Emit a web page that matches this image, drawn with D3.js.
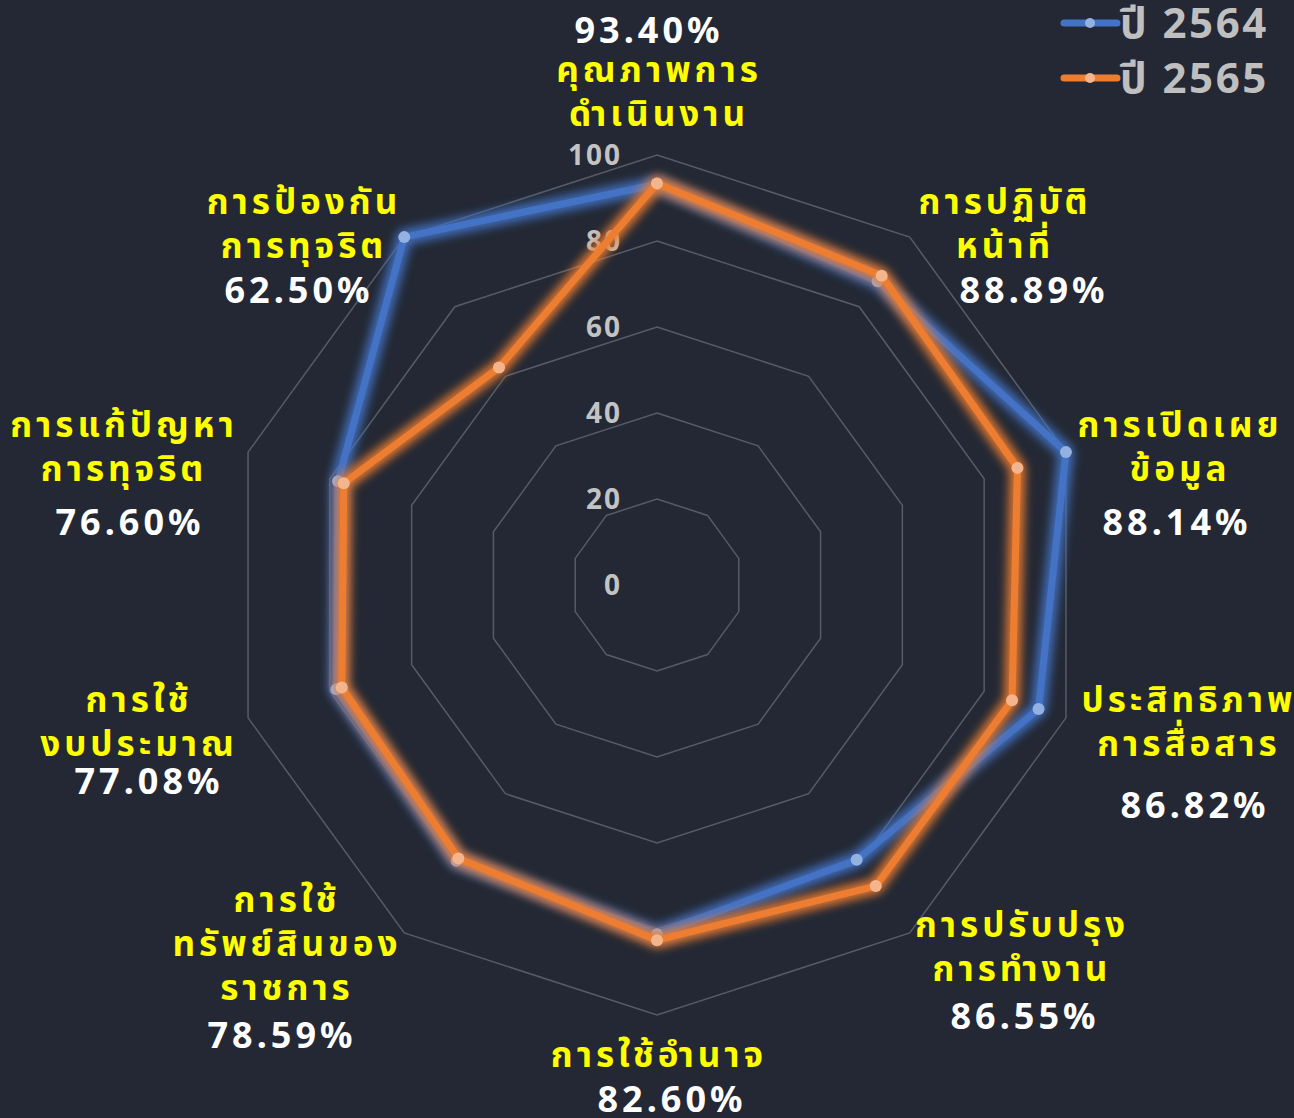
<!DOCTYPE html>
<html>
<head>
<meta charset="utf-8">
<script src="https://cdn.jsdelivr.net/npm/d3@7"></script>
<style>
  html, body { margin: 0; padding: 0; background: #232834; }
  svg { display: block; }
  text { font-family: "Noto Sans", "Noto Sans Thai", "Noto Sans Thai Looped", sans-serif; font-weight: bold; }
</style>
</head>
<body>
<div id="container"></div>
<script>
const WIDTH = 1294;
const HEIGHT = 1118;
const CX = 657;
const CY = 585;
const MAX_R = 430;

// categories, clockwise from the top
const categories = [
  ['คุณภาพการ', 'ดำเนินงาน'],
  ['การปฏิบัติ', 'หน้าที่'],
  ['การเปิดเผย', 'ข้อมูล'],
  ['ประสิทธิภาพ', 'การสื่อสาร'],
  ['การปรับปรุง', 'การทำงาน'],
  ['การใช้อำนาจ'],
  ['การใช้', 'ทรัพย์สินของ', 'ราชการ'],
  ['การใช้', 'งบประมาณ'],
  ['การแก้ปัญหา', 'การทุจริต'],
  ['การป้องกัน', 'การทุจริต']
];

const series2564 = [93.2, 87.3, 100, 93.3, 79.0, 81.2, 79.3, 78.4, 78.0, 100];
const series2565 = [93.40, 88.89, 88.14, 86.82, 86.55, 82.60, 78.59, 77.08, 76.60, 62.50];
const seriesNames = ['ปี 2564', 'ปี 2565'];
const ringTicks = [20, 40, 60, 80, 100];
const tickLabels = [0, 20, 40, 60, 80, 100];

// where the axis captions sit (x, first line y, percent x, percent y)
const captionLayout = [
  { x: 657, y: 70, px: 647, py: 30 },
  { x: 1003, y: 202, px: 1032, py: 290 },
  { x: 1178, y: 425, px: 1175, py: 522 },
  { x: 1187, y: 700, px: 1193, py: 805 },
  { x: 1020, y: 925, px: 1023, py: 1016 },
  { x: 657, y: 1055, px: 670, py: 1099 },
  { x: 285, y: 900, px: 280, py: 1035 },
  { x: 137, y: 700, px: 147, py: 781 },
  { x: 122, y: 425, px: 128, py: 522 },
  { x: 302, y: 202, px: 297, py: 290 }
];

const COLORS = ['#4472c4', '#ed7d31'];
const POINT_COLORS = ['#93b1e1', '#f5b58c'];

const svg = d3.select('#container')
              .append('svg')
                .attr('width', WIDTH)
                .attr('height', HEIGHT);

svg.append('rect')
   .attr('width', WIDTH)
   .attr('height', HEIGHT)
   .attr('fill', '#232834');

const defs = svg.append('defs');
COLORS.forEach((c, i) => {
    const f = defs.append('filter')
                  .attr('id', `glow${i}`)
                  .attr('x', '-20%').attr('y', '-20%')
                  .attr('width', '140%').attr('height', '140%');
    f.append('feGaussianBlur')
     .attr('in', 'SourceGraphic')
     .attr('stdDeviation', 5);
});

const rscale = d3.scaleLinear().domain([0, 100]).range([0, MAX_R]);
const n = categories.length;
const angle = i => i * 2 * Math.PI / n;
const px = (i, v) => CX + rscale(v) * Math.sin(angle(i));
const py = (i, v) => CY - rscale(v) * Math.cos(angle(i));

const g = svg.append('g');

// grid rings
g.selectAll('.ring')
 .data(ringTicks)
 .enter()
 .append('polygon')
   .attr('points', t => d3.range(n).map(i => `${px(i, t)},${py(i, t)}`).join(' '))
   .attr('fill', 'none')
   .attr('stroke', '#565c67')
   .attr('stroke-width', 1.5);

// ring labels
g.selectAll('.tick')
 .data(tickLabels)
 .enter()
 .append('text')
   .attr('x', 622)
   .attr('y', t => py(0, t))
   .attr('dy', '0.35em')
   .attr('text-anchor', 'end')
   .attr('fill', '#c3c3c3')
   .attr('font-size', 28)
   .attr('letter-spacing', 2)
   .text(t => t);

const line = d3.lineRadial()
               .angle((d, i) => angle(i))
               .radius(d => rscale(d))
               .curve(d3.curveLinearClosed);

[series2564, series2565].forEach((s, k) => {
    const sg = g.append('g').attr('transform', `translate(${CX}, ${CY})`);
    sg.append('path')
      .attr('d', line(s))
      .attr('fill', 'none')
      .attr('stroke', COLORS[k])
      .attr('stroke-width', 16)
      .attr('stroke-opacity', 0.9)
      .attr('stroke-linejoin', 'round')
      .attr('filter', `url(#glow${k})`);
    sg.append('path')
      .attr('d', line(s))
      .attr('fill', 'none')
      .attr('stroke', COLORS[k])
      .attr('stroke-width', 7)
      .attr('stroke-linejoin', 'round');
    g.selectAll(`.pt${k}`)
     .data(s)
     .enter()
     .append('circle')
       .attr('cx', (d, i) => px(i, d))
       .attr('cy', (d, i) => py(i, d))
       .attr('r', 6)
       .attr('fill', POINT_COLORS[k]);
});

// captions
categories.forEach((lines, i) => {
    const L = captionLayout[i];
    lines.forEach((t, j) => {
        svg.append('text')
           .attr('x', L.x + 2)
           .attr('y', L.y + j * 44)
           .attr('dy', '0.35em')
           .attr('text-anchor', 'middle')
           .attr('fill', '#ffff00')
           .attr('font-size', 35)
           .attr('letter-spacing', 4)
           .text(t);
    });
    svg.append('text')
       .attr('x', L.px + 2)
       .attr('y', L.py)
       .attr('dy', '0.35em')
       .attr('text-anchor', 'middle')
       .attr('fill', '#ffffff')
       .attr('font-size', 36)
       .attr('letter-spacing', 4)
       .text(`${series2565[i].toFixed(2)}%`);
});

// legend
seriesNames.forEach((name, k) => {
    const y = 23 + k * 55;
    const lg = svg.append('g');
    lg.append('line')
      .attr('x1', 1064).attr('x2', 1117)
      .attr('y1', y).attr('y2', y)
      .attr('stroke', COLORS[k])
      .attr('stroke-width', 7)
      .attr('stroke-linecap', 'round');
    lg.append('circle')
      .attr('cx', 1090).attr('cy', y)
      .attr('r', 5)
      .attr('fill', POINT_COLORS[k]);
    lg.append('text')
      .attr('x', 1120)
      .attr('y', y)
      .attr('dy', '0.36em')
      .attr('fill', '#bfbfbf')
      .attr('font-size', 42)
      .attr('letter-spacing', 2.5)
      .text(name);
});
</script>
</body>
</html>
